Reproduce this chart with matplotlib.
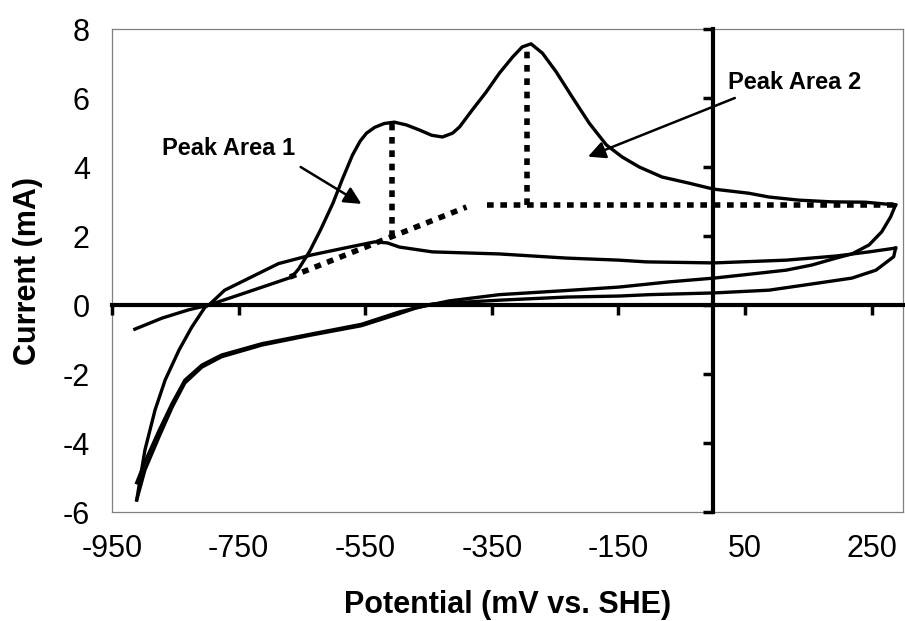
import matplotlib
matplotlib.use('Agg')
import matplotlib.pyplot as plt

plt.rcParams['font.family'] = ['Liberation Sans', 'DejaVu Sans']
plt.rcParams['axes.unicode_minus'] = False

# cycle 1, forward sweep (with the two oxidation peaks)
fwd1_mv = [-914, -871, -829, -797, -740, -690, -666, -655, -638, -620, -601, -586,
           -570, -558, -548, -535, -520, -504, -485, -464, -445, -428, -412, -401,
           -381, -359, -338, -317, -302, -288, -270, -248, -223, -196, -169, -144,
           -117, -81, -38, 0, 56, 88, 135, 187, 240, 288]
fwd1_ma = [-0.70, -0.38, -0.14, 0.0, 0.35, 0.66, 0.81, 1.05, 1.55, 2.2, 2.95, 3.65,
           4.35, 4.75, 4.98, 5.15, 5.26, 5.30, 5.22, 5.07, 4.92, 4.87, 4.98, 5.16,
           5.65, 6.17, 6.72, 7.19, 7.48, 7.57, 7.3, 6.75, 6.03, 5.27, 4.64, 4.29,
           4.0, 3.71, 3.53, 3.36, 3.24, 3.13, 3.04, 2.99, 2.98, 2.9]

# cycle 1, reverse sweep
rev1_mv = [288, 280, 266, 246, 219, 194, 156, 115, 61, 1, -70, -149, -232, -338,
           -417, -469, -496, -556, -635, -713, -777, -808, -835, -855, -876, -898, -911]
rev1_ma = [2.9, 2.55, 2.12, 1.74, 1.48, 1.36, 1.16, 1.01, 0.9, 0.78, 0.67, 0.52,
           0.42, 0.3, 0.12, -0.08, -0.25, -0.6, -0.87, -1.16, -1.5, -1.8, -2.26,
           -2.96, -3.83, -4.78, -5.65]

# cycle 2, forward sweep
fwd2_mv = [-911, -898, -882, -866, -844, -824, -803, -797, -772, -740, -687, -635,
           -583, -535, -515, -496, -444, -338, -232, -149, -106, 1, 115, 194, 246, 288]
fwd2_ma = [-5.65, -4.2, -3.04, -2.17, -1.3, -0.64, -0.06, 0.0, 0.43, 0.72, 1.2, 1.45,
           1.65, 1.83, 1.8, 1.68, 1.54, 1.48, 1.36, 1.3, 1.25, 1.22, 1.3, 1.42, 1.54, 1.65]

# cycle 2, reverse sweep
rev2_mv = [288, 285, 257, 219, 167, 88, 1, -101, -149, -232, -338, -444, -496,
           -556, -635, -713, -777, -808, -835, -855, -876, -898, -911]
rev2_ma = [1.65, 1.4, 1.01, 0.78, 0.64, 0.43, 0.35, 0.3, 0.26, 0.23, 0.14, 0.03, -0.2,
           -0.56, -0.84, -1.12, -1.45, -1.74, -2.18, -2.85, -3.65, -4.55, -5.15]

# peak-area construction lines
base1_mv = [-669, -390]
base1_ma = [0.81, 2.84]
base2_mv = [-357, 288]
base2_ma = [2.9, 2.9]
peak1_mv = [-508, -508]
peak1_ma = [1.98, 5.3]
peak2_mv = [-294, -294]
peak2_ma = [2.9, 7.55]

xticks = list(range(-950, 251, 200))
yticks = list(range(-6, 9, 2))

fig = plt.figure(figsize=(9.05, 6.21), dpi=100)
ax = fig.add_axes([0.1238, 0.1755, 0.8742, 0.7778])

for xs, ys in [(fwd1_mv, fwd1_ma), (rev1_mv, rev1_ma), (fwd2_mv, fwd2_ma), (rev2_mv, rev2_ma)]:
    ax.plot(xs, ys, color='black', lw=2.4, solid_joinstyle='round', zorder=3)

dot = (0, (1.2, 1.2))
for xs, ys in [(base1_mv, base1_ma), (base2_mv, base2_ma), (peak1_mv, peak1_ma), (peak2_mv, peak2_ma)]:
    ax.plot(xs, ys, color='black', lw=4.0, linestyle=dot, zorder=4)

ax.set_xlim(-950, 300)
ax.set_ylim(-6, 8)
ax.set_xticks(xticks)
ax.set_yticks(yticks)
ax.tick_params(axis='both', length=0, labelsize=22)
ax.tick_params(axis='y', pad=16)
ax.tick_params(axis='x', pad=16)
for s in ax.spines.values():
    s.set_color('#808080')
    s.set_linewidth(0.9)

ax.set_xlabel('Potential (mV vs. SHE)', fontsize=22, fontweight='bold', va='baseline')
ax.xaxis.set_label_coords(0.5, -0.209)
ax.set_ylabel('Current (mA)', fontsize=22, fontweight='bold', va='center')
ax.yaxis.set_label_coords(-0.106, 0.5)

# annotations
ax.text(-871, 4.55, 'Peak Area 1', fontsize=17, fontweight='bold', ha='left', va='center')
ax.annotate('', xy=(-556, 2.93), xytext=(-652, 4.0),
            arrowprops=dict(arrowstyle='-|>', color='black', lw=1.8,
                            mutation_scale=26, shrinkA=0, shrinkB=0))
ax.text(23, 6.46, 'Peak Area 2', fontsize=17, fontweight='bold', ha='left', va='center')
ax.annotate('', xy=(-198, 4.3), xytext=(34, 6.0),
            arrowprops=dict(arrowstyle='-|>', color='black', lw=1.8,
                            mutation_scale=26, shrinkA=0, shrinkB=0))

# axes crossing at zero (Excel style), drawn on an overlay
ax2 = fig.add_axes(ax.get_position(), sharex=ax, sharey=ax)
ax2.patch.set_visible(False)
ax2.spines['top'].set_visible(False)
ax2.spines['right'].set_visible(False)
ax2.spines['left'].set_position(('data', 0))
ax2.spines['bottom'].set_position(('data', 0))
ax2.spines['left'].set_linewidth(3)
ax2.spines['bottom'].set_linewidth(3)
ax2.tick_params(axis='both', direction='out', length=7, width=2.5,
                labelleft=False, labelbottom=False)

fig.savefig('out.png', dpi=100)
